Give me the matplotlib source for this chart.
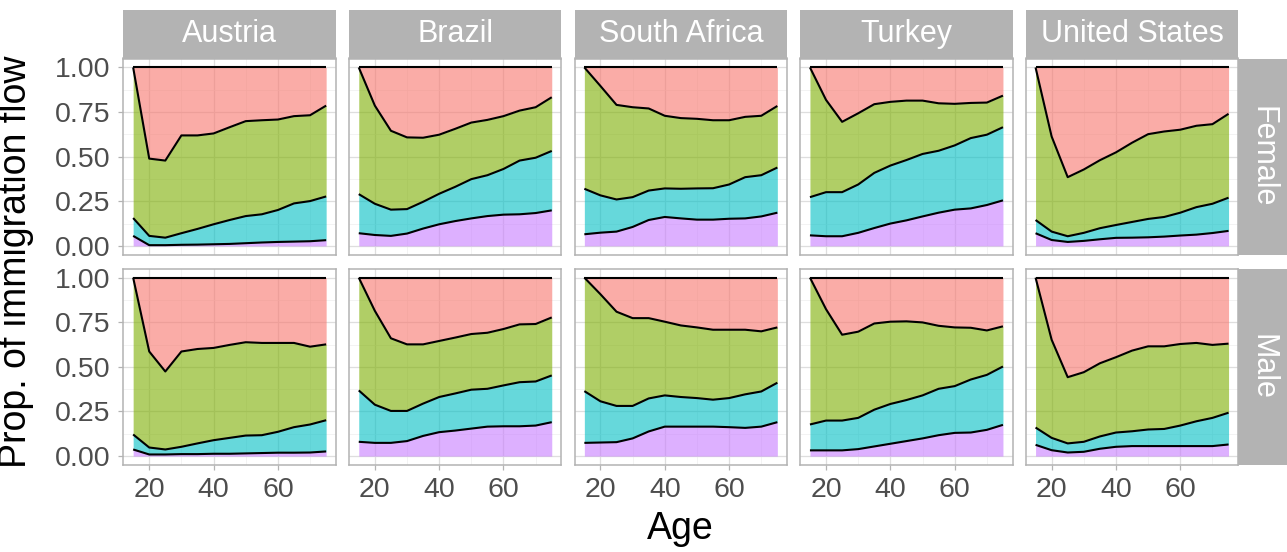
import numpy as np
import matplotlib
matplotlib.use('Agg')
import matplotlib.pyplot as plt
from matplotlib.ticker import MultipleLocator

plt.rcParams['font.family'] = ['Liberation Sans', 'DejaVu Sans']

AGES = [15, 20, 25, 30, 35, 40, 45, 50, 55, 60, 65, 70, 75]
COUNTRIES = ['Austria', 'Brazil', 'South Africa', 'Turkey', 'United States']
SEXES = ['Female', 'Male']

# cumulative proportions (low = top of purple,
# mid = top of cyan, high = top of green; red fills up to 1)
aut_f_low = [0.056, 0.004, 0.004, 0.006, 0.007, 0.009, 0.011, 0.015, 0.019, 0.022, 0.024, 0.026, 0.032]
aut_f_mid = [0.156, 0.056, 0.046, 0.071, 0.095, 0.121, 0.145, 0.167, 0.177, 0.201, 0.238, 0.251, 0.277]
aut_f_high = [1.0, 0.489, 0.478, 0.619, 0.619, 0.630, 0.665, 0.699, 0.704, 0.708, 0.727, 0.732, 0.786]

bra_f_low = [0.071, 0.061, 0.056, 0.069, 0.097, 0.121, 0.139, 0.154, 0.167, 0.175, 0.177, 0.184, 0.199]
bra_f_mid = [0.290, 0.236, 0.203, 0.206, 0.247, 0.292, 0.331, 0.374, 0.396, 0.431, 0.478, 0.494, 0.532]
bra_f_high = [1.0, 0.786, 0.645, 0.608, 0.606, 0.623, 0.656, 0.691, 0.706, 0.727, 0.758, 0.777, 0.833]

zaf_f_low = [0.065, 0.074, 0.080, 0.106, 0.145, 0.162, 0.154, 0.147, 0.147, 0.152, 0.154, 0.165, 0.186]
zaf_f_mid = [0.320, 0.283, 0.260, 0.273, 0.310, 0.322, 0.320, 0.322, 0.323, 0.344, 0.385, 0.396, 0.439]
zaf_f_high = [1.0, 0.896, 0.790, 0.777, 0.770, 0.729, 0.716, 0.712, 0.704, 0.704, 0.723, 0.729, 0.784]

tur_f_low = [0.059, 0.054, 0.054, 0.073, 0.100, 0.125, 0.143, 0.165, 0.186, 0.203, 0.210, 0.229, 0.255]
tur_f_mid = [0.273, 0.301, 0.301, 0.344, 0.409, 0.450, 0.481, 0.515, 0.533, 0.563, 0.604, 0.623, 0.665]
tur_f_high = [1.0, 0.818, 0.695, 0.743, 0.794, 0.807, 0.814, 0.814, 0.799, 0.796, 0.801, 0.803, 0.842]

usa_f_low = [0.071, 0.033, 0.022, 0.028, 0.037, 0.045, 0.046, 0.048, 0.052, 0.058, 0.063, 0.072, 0.084]
usa_f_mid = [0.145, 0.080, 0.054, 0.073, 0.099, 0.117, 0.134, 0.151, 0.162, 0.186, 0.217, 0.236, 0.270]
usa_f_high = [1.0, 0.613, 0.385, 0.428, 0.480, 0.524, 0.578, 0.626, 0.641, 0.651, 0.673, 0.682, 0.740]

aut_m_low = [0.037, 0.009, 0.009, 0.011, 0.011, 0.013, 0.013, 0.015, 0.017, 0.019, 0.019, 0.020, 0.026]
aut_m_mid = [0.121, 0.048, 0.037, 0.052, 0.071, 0.089, 0.102, 0.115, 0.117, 0.136, 0.162, 0.177, 0.201]
aut_m_high = [1.0, 0.586, 0.474, 0.586, 0.600, 0.606, 0.623, 0.638, 0.634, 0.634, 0.634, 0.613, 0.626]

bra_m_low = [0.080, 0.074, 0.074, 0.084, 0.113, 0.134, 0.143, 0.154, 0.165, 0.167, 0.167, 0.171, 0.190]
bra_m_mid = [0.368, 0.288, 0.253, 0.253, 0.294, 0.331, 0.351, 0.372, 0.377, 0.396, 0.414, 0.418, 0.452]
bra_m_high = [1.0, 0.814, 0.660, 0.626, 0.626, 0.645, 0.664, 0.684, 0.691, 0.712, 0.738, 0.740, 0.777]

zaf_m_low = [0.074, 0.076, 0.078, 0.099, 0.138, 0.165, 0.165, 0.165, 0.165, 0.162, 0.158, 0.165, 0.190]
zaf_m_mid = [0.364, 0.307, 0.281, 0.281, 0.323, 0.340, 0.331, 0.325, 0.316, 0.325, 0.346, 0.362, 0.411]
zaf_m_high = [1.0, 0.907, 0.809, 0.773, 0.773, 0.753, 0.732, 0.721, 0.708, 0.708, 0.708, 0.699, 0.721]

tur_m_low = [0.032, 0.032, 0.032, 0.039, 0.054, 0.069, 0.084, 0.099, 0.117, 0.130, 0.132, 0.147, 0.175]
tur_m_mid = [0.177, 0.199, 0.199, 0.214, 0.260, 0.292, 0.314, 0.340, 0.377, 0.392, 0.429, 0.455, 0.502]
tur_m_high = [1.0, 0.823, 0.680, 0.697, 0.743, 0.753, 0.755, 0.749, 0.730, 0.721, 0.719, 0.704, 0.727]

usa_m_low = [0.063, 0.033, 0.020, 0.024, 0.041, 0.052, 0.056, 0.056, 0.056, 0.056, 0.056, 0.056, 0.065]
usa_m_mid = [0.160, 0.102, 0.071, 0.080, 0.110, 0.132, 0.139, 0.149, 0.152, 0.171, 0.195, 0.214, 0.243]
usa_m_high = [1.0, 0.652, 0.442, 0.470, 0.520, 0.554, 0.591, 0.615, 0.615, 0.628, 0.634, 0.623, 0.630]

FEMALE = [(aut_f_low, aut_f_mid, aut_f_high), (bra_f_low, bra_f_mid, bra_f_high),
          (zaf_f_low, zaf_f_mid, zaf_f_high), (tur_f_low, tur_f_mid, tur_f_high),
          (usa_f_low, usa_f_mid, usa_f_high)]
MALE = [(aut_m_low, aut_m_mid, aut_m_high), (bra_m_low, bra_m_mid, bra_m_high),
        (zaf_m_low, zaf_m_mid, zaf_m_high), (tur_m_low, tur_m_mid, tur_m_high),
        (usa_m_low, usa_m_mid, usa_m_high)]

# ggplot hue palette, bottom layer first
COLORS = ['#C77CFF', '#00BFC4', '#7CAE00', '#F8766D']

W, H = 1287, 552


def px_axes(fig, left, top, width, height):
    """Add axes placed in pixel units measured from the top left corner."""
    return fig.add_axes([left / W, 1 - (top + height) / H, width / W, height / H])


def draw_panel(ax, low, mid, high, show_x, show_y):
    """Stacked area panel with black upper outlines."""
    ages = np.array(AGES)
    low, mid, high = np.array(low), np.array(mid), np.array(high)
    total = np.ones_like(high)
    bounds = [np.zeros_like(low), low, mid, high, total]
    for i in range(4):
        ax.fill_between(ages, bounds[i], bounds[i + 1], color=COLORS[i], alpha=0.6,
                        linewidth=0, zorder=2)
    for b in bounds[1:]:
        ax.plot(ages, b, color='black', linewidth=1.5, zorder=3,
                solid_joinstyle='round', solid_capstyle='butt')

    ax.set_xlim(12, 78)
    ax.set_ylim(-0.05, 1.05)
    ax.xaxis.set_major_locator(MultipleLocator(20))
    ax.xaxis.set_minor_locator(MultipleLocator(10))
    ax.yaxis.set_major_locator(MultipleLocator(0.25))
    ax.yaxis.set_minor_locator(MultipleLocator(0.125))
    ax.set_yticks([0, 0.25, 0.5, 0.75, 1.0])
    ax.set_yticklabels(['0.00', '0.25', '0.50', '0.75', '1.00'])
    ax.set_axisbelow(True)
    ax.grid(which='major', color='#DEDEDE', linewidth=0.9)
    ax.grid(which='minor', color='#EEEEEE', linewidth=0.5)
    for s in ax.spines.values():
        s.set_color('#B3B3B3')
        s.set_linewidth(1.1)
    ax.tick_params(which='minor', length=0)
    ax.tick_params(which='major', length=3.5, width=0.9, color='#B3B3B3',
                   labelsize=20.5, labelcolor='#4D4D4D')
    ax.tick_params(axis='x', bottom=show_x, labelbottom=show_x, pad=5)
    ax.tick_params(axis='y', left=show_y, labelleft=show_y, pad=6)


def add_strip(fig, left, top, width, height, label, rotation=0):
    """Grey facet strip with white label."""
    sax = px_axes(fig, left, top, width, height)
    sax.set_facecolor('#B3B3B3')
    sax.set_xticks([])
    sax.set_yticks([])
    for s in sax.spines.values():
        s.set_visible(False)
    sax.text(0.5, 0.5, label, color='white', fontsize=22, rotation=rotation,
             ha='center', va='center', transform=sax.transAxes)


def main():
    fig = plt.figure(figsize=(W / 100, H / 100), dpi=100)
    col_left = 123.5
    col_step = 225.6
    panel_w = 212.3
    row_top = [58.5, 268.7]
    panel_h = 196.3

    for r, rows in enumerate([FEMALE, MALE]):
        for c, (low, mid, high) in enumerate(rows):
            ax = px_axes(fig, col_left + c * col_step, row_top[r], panel_w, panel_h)
            draw_panel(ax, low, mid, high, show_x=(r == 1), show_y=(c == 0))

    for c, name in enumerate(COUNTRIES):
        add_strip(fig, col_left + c * col_step, 9.5, panel_w, 49, name)
    for r, sex in enumerate(SEXES):
        add_strip(fig, col_left + 4 * col_step + panel_w, row_top[r], 49.5, panel_h, sex,
                  rotation=-90)

    fig.text(16 / W, 1 - 262 / H, 'Prop. of immigration flow', rotation=90,
             fontsize=27, ha='center', va='center')
    fig.text(680.5 / W, 1 - 529 / H, 'Age', fontsize=27, ha='center', va='center')

    fig.savefig('out.png', dpi=100)


main()
